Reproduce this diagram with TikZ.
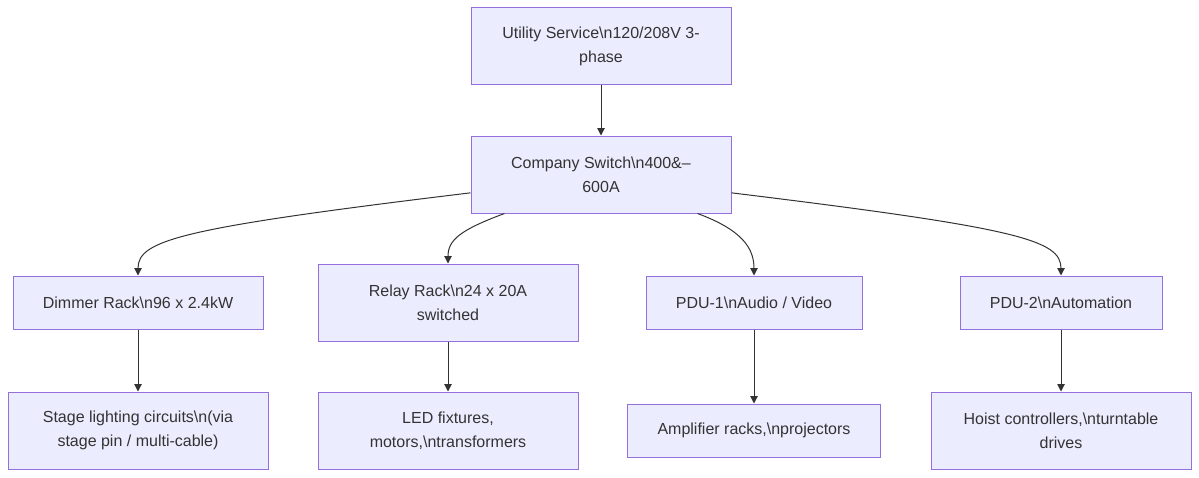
\documentclass[tikz,border=0pt]{standalone}
\usepackage{fontspec}
\setmainfont{Liberation Sans}
\usepackage{tikz}
\usetikzlibrary{arrows.meta}
\usepackage{xcolor}
\definecolor{boxfill}{RGB}{236,236,255}
\definecolor{boxline}{RGB}{147,112,219}
\definecolor{inkgray}{RGB}{51,51,51}
\newcommand{\bs}{\textbackslash}

\begin{document}
\begin{tikzpicture}[x=0.75pt, y=-0.75pt,
    every node/.style={font=\fontsize{12pt}{18pt}\selectfont, text=inkgray},
    unit/.style={draw=boxline, fill=boxfill, line width=0.75pt, align=center, inner sep=0pt, minimum height=#1},
    unit/.default=57.75pt,
    feed/.style={draw=inkgray, line width=0.75pt, -{Triangle[length=5.5pt,width=5.5pt]}}]
        \useasboundingbox (0,0) rectangle (1199,478);
        % top of the tree
        \node[unit, minimum width=195pt] (util) at (601,46.5) {Utility Service\bs n120/208V 3-\\phase};
        \node[unit, minimum width=195pt] (sw) at (601,174.5) {Company Switch\bs n400\&–\\600A};
        % distribution
        \node[unit=39.75pt, minimum width=187.5pt] (dim) at (138,302.5) {Dimmer Rack\bs n96 x 2.4kW};
        \node[unit, minimum width=195pt] (relay) at (448,302.5) {Relay Rack\bs n24 x 20A\\switched};
        \node[unit=39.75pt, minimum width=162pt] (pdua) at (754,302.5) {PDU-1\bs nAudio / Video};
        \node[unit=39.75pt, minimum width=151.5pt] (pdub) at (1061,302.5) {PDU-2\bs nAutomation};
        % loads
        \node[unit, minimum width=195pt] (stage) at (138,430.5) {Stage lighting circuits\bs n(via\\stage pin / multi-cable)};
        \node[unit, minimum width=195pt] (led) at (448,430.5) {LED fixtures,\\motors,\bs ntransformers};
        \node[unit=39.75pt, minimum width=189.75pt] (amp) at (754,430.5) {Amplifier racks,\bs nprojectors};
        \node[unit, minimum width=195pt] (hoist) at (1061,430.5) {Hoist controllers,\bs nturntable\\drives};
        % feeders
        \draw[feed] (util) -- (sw);
        \draw[feed] (sw.188) .. controls (180,228) and (138,240) .. (dim.north);
        \draw[feed] (sw.202) .. controls (460,230) and (448,240) .. (relay.north);
        \draw[feed] (sw.-22) .. controls (742,230) and (754,248) .. (pdua.north);
        \draw[feed] (sw.-8) .. controls (1019,228) and (1061,240) .. (pdub.north);
        \foreach \a/\b in {dim/stage, relay/led, pdua/amp, pdub/hoist} {
          \draw[feed] (\a) -- (\b);
        }
      \end{tikzpicture}
\end{document}
